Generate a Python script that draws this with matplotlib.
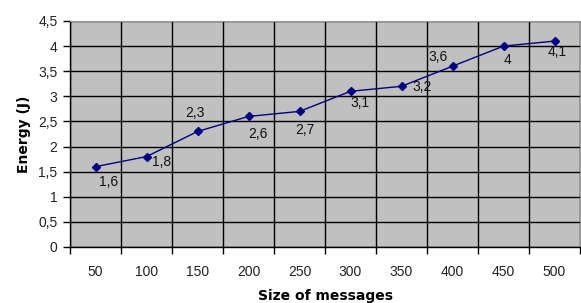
import matplotlib.pyplot as plt
from matplotlib.ticker import FixedLocator, FuncFormatter

sizes = ['50', '100', '150', '200', '250', '300', '350', '400', '450', '500']
energy = [1.6, 1.8, 2.3, 2.6, 2.7, 3.1, 3.2, 3.6, 4.0, 4.1]
# where each data label sits relative to its point (pixels)
label_offsets = [(13, -15), (15, -5), (-3, 18), (9, -18), (5, -19),
                 (9, -12), (21, -1), (-14, 9), (4, -14), (3, -11)]

plt.rcParams['font.family'] = ['Liberation Sans', 'DejaVu Sans']


def comma(v):
    return f"{v:g}".replace('.', ',')


fig = plt.figure(figsize=(5.81, 3.03), dpi=100)
ax = fig.add_axes([70 / 581, 56 / 303, 510 / 581, 226 / 303])
ax.set_facecolor('#C0C0C0')

x = list(range(len(sizes)))
ax.plot(x, energy, color='#000080', lw=1, marker='D', ms=4, zorder=3)
for xi, v, off in zip(x, energy, label_offsets):
    ax.annotate(comma(v), (xi, v), xytext=off, textcoords='offset pixels',
                ha='center', va='center', fontsize=10, color='#111111', zorder=4)

ax.set_xlim(-0.5, len(sizes) - 0.5)
ax.set_ylim(0, 4.5)
ax.set_xticks(x)
ax.set_xticklabels(sizes)
ax.xaxis.set_minor_locator(FixedLocator([i - 0.5 for i in range(len(sizes) + 1)]))
ax.set_yticks([i * 0.5 for i in range(10)])
ax.yaxis.set_major_formatter(FuncFormatter(lambda v, p: comma(v)))

ax.tick_params(axis='x', which='major', length=0, pad=13, labelsize=10, labelcolor='#222222')
ax.tick_params(axis='x', which='minor', length=5, width=1, direction='out')
ax.tick_params(axis='y', length=5, width=1, direction='out', pad=4, labelsize=10, labelcolor='#222222')

ax.grid(axis='y', which='major', color='black', lw=1)
ax.grid(axis='x', which='minor', color='black', lw=1)
ax.set_axisbelow(True)

for side in ['left', 'bottom']:
    ax.spines[side].set_color('black')
    ax.spines[side].set_linewidth(1)
for side in ['top', 'right']:
    ax.spines[side].set_color('#999999')

ax.set_xlabel('Size of messages', family='DejaVu Sans', fontweight='bold',
              fontsize=10, labelpad=7)
ax.set_ylabel('Energy (J)', family='DejaVu Sans', fontweight='bold',
              fontsize=10, labelpad=5)

fig.savefig('out.png', dpi=100)
